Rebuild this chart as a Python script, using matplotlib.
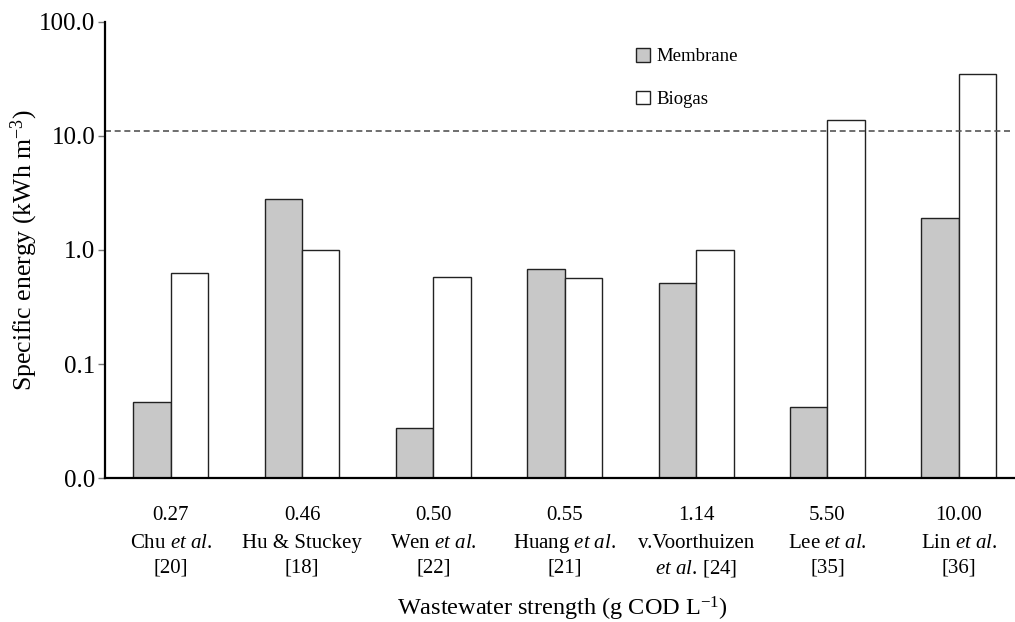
import matplotlib
matplotlib.use("Agg")
import matplotlib.pyplot as plt
import numpy as np

plt.rcParams["font.family"] = ["Liberation Serif", "DejaVu Serif"]
plt.rcParams["mathtext.fontset"] = "custom"
plt.rcParams["mathtext.rm"] = "Liberation Serif"
plt.rcParams["mathtext.it"] = "Liberation Serif:italic"

# wastewater strength per study (g COD/L) and reference labels
strengths = ["0.27", "0.46", "0.50", "0.55", "1.14", "5.50", "10.00"]
studies = [r"Chu $\mathit{et\ al.}$", "Hu & Stuckey", r"Wen $\mathit{et\ al.}$",
           r"Huang $\mathit{et\ al.}$", "v.Voorthuizen", r"Lee $\mathit{et\ al.}$",
           r"Lin $\mathit{et\ al.}$"]
refs = ["[20]", "[18]", "[22]", "[21]", r"$\mathit{et\ al.}\,$[24]", "[35]", "[36]"]

# specific energy (kWh/m3)
membrane = [0.047, 2.78, 0.0277, 0.686, 0.517, 0.042, 1.90]
biogas = [0.632, 1.0, 0.576, 0.565, 1.0, 13.8, 34.8]
threshold = 11.0

yticks = [0.01, 0.1, 1, 10, 100]
ytick_labels = ["0.0", "0.1", "1.0", "10.0", "100.0"]

fig = plt.figure(figsize=(10.15, 6.22), dpi=100)
ax = fig.add_axes([105 / 1015, 1 - 478.3 / 622, 909 / 1015, (478.3 - 21.7) / 622])

x = np.arange(len(strengths))
w = 0.285
ax.bar(x - w / 2, membrane, w, color="#c8c8c8", edgecolor="#222222", linewidth=1.0, label="Membrane")
ax.bar(x + w / 2, biogas, w, color="white", edgecolor="#222222", linewidth=1.0, label="Biogas")

ax.axhline(threshold, xmax=0.9956, color="#555555", linewidth=1.2, linestyle=(0, (3.6, 2.2)))

ax.set_yscale("log")
ax.set_ylim(0.01, 100)
ax.set_xlim(-0.5, 6.42)
ax.set_yticks(yticks)
ax.set_yticklabels(ytick_labels)
ax.minorticks_off()
ax.tick_params(axis="y", direction="out", length=5, width=1, color="#777777", labelsize=18, pad=2)
ax.set_xticks([])

for s in ["top", "right"]:
    ax.spines[s].set_visible(False)
ax.spines["left"].set_linewidth(1.6)
ax.spines["bottom"].set_linewidth(1.6)

ax.set_ylabel(r"Specific energy (kWh m$^{-3}$)", fontsize=18.5)
ax.yaxis.set_label_coords(-65 / 909, 0.5)

# category labels under each group: strength, study, reference
trans = ax.get_xaxis_transform()
for i in range(len(strengths)):
    ax.text(x[i], -37 / 456.6, strengths[i], transform=trans, ha="center", va="center", fontsize=15)
    ax.text(x[i], -65 / 456.6, studies[i], transform=trans, ha="center", va="center", fontsize=15)
    ax.text(x[i], -90 / 456.6, refs[i], transform=trans, ha="center", va="center", fontsize=15)

fig.text(562 / 1015, 1 - 609 / 622, r"Wastewater strength (g COD L$^{-1}$)", ha="center", va="center", fontsize=17.5)

ax.legend(loc="upper left", bbox_to_anchor=(636 / 1015, 1 - 48 / 622), bbox_transform=fig.transFigure,
          frameon=False, fontsize=13.5, handlelength=0.75, handleheight=0.75, handletextpad=0.35,
          labelspacing=1.35, borderpad=0, borderaxespad=0)

fig.savefig("out.png", dpi=100)
